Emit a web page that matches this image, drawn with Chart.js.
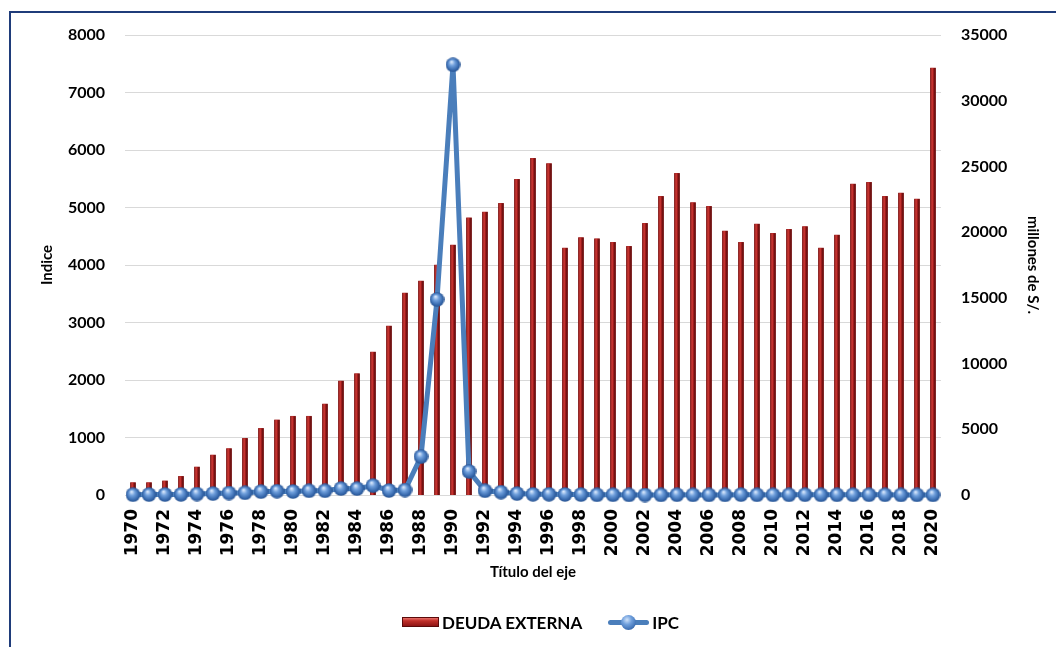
<!DOCTYPE html>
<html lang="es">
<head>
<meta charset="utf-8">
<title>Deuda externa e IPC 1970-2020</title>
<script src="https://cdn.jsdelivr.net/npm/chart.js@4.4.1/dist/chart.umd.min.js"></script>
<style>
  html, body { margin: 0; padding: 0; background: #fff; overflow: hidden; }
  #page { width: 1056px; height: 647px; position: relative; overflow: hidden; font-family: Lato, "Open Sans", sans-serif; }
  #frame {
    position: absolute; left: 9px; top: 11px; width: 1100px; height: 700px;
    border-top: 2px solid #1f3c7a; border-left: 2px solid #1f3c7a;
  }
  #chart { position: absolute; left: 0; top: 0; }
  #legend {
    position: absolute; left: 402px; top: 612px; height: 20px;
    display: flex; align-items: center; font-weight: bold; font-size: 17px; color: #000;
  }
  .leg-bar {
    width: 37px; height: 10px; box-sizing: border-box; border: 1px solid #5a0a0a;
    background: linear-gradient(to bottom, #e8706a 0%, #c0302a 35%, #8e1414 100%);
    margin-right: 3px;
  }
  .leg-line { position: relative; width: 41px; height: 15px; margin: 0 3px 0 26px; }
  .leg-line::before {
    content: ""; position: absolute; left: 0; right: 0; top: 5px; height: 5px;
    border-radius: 3px; background: #4a7ebb;
  }
  .leg-line::after {
    content: ""; position: absolute; left: 13px; top: 0; width: 15px; height: 15px; border-radius: 50%;
    background: radial-gradient(circle at 40% 32%, #cfe2fa 0%, #6f9fdc 35%, #3a6cb0 75%, #24508f 100%);
  }
</style>
</head>
<body>
<div id="page">
  <div id="frame"></div>
  <canvas id="chart" width="1056" height="647"></canvas>
  <div id="legend">
    <span class="leg-bar"></span><span>DEUDA EXTERNA</span>
    <span class="leg-line"></span><span>IPC</span>
  </div>
</div>
<script>
// years on the x axis
const YEARS = [];
for (let y = 1970; y <= 2020; y++) YEARS.push(String(y));

// IPC (left axis, "Indice")
const IPC = [
  5, 7, 7, 10, 17, 24, 34, 38, 58, 67,
  60, 73, 73, 111, 110, 163, 78, 86, 667, 3399,
  7482, 410, 73, 49, 24, 11, 12, 9, 7, 3,
  4, 2, 0, 2, 4, 2, 2, 2, 6, 3,
  2, 3, 4, 3, 3, 4, 4, 3, 1, 2,
  2,
];

// deuda externa (right axis, millones de S/.)
const DEUDA = [
  940, 940, 1070, 1420, 2130, 3040, 3530, 4310, 5070, 5710,
  5990, 5990, 6920, 8670, 9230, 10880, 12860, 15370, 16280, 17500,
  19020, 21080, 21530, 22190, 24020, 25620, 25210, 18790, 19580, 19500,
  19230, 18920, 20670, 22720, 24470, 22240, 21960, 20090, 19230, 20620,
  19910, 20210, 20420, 18790, 19780, 23660, 23790, 22720, 22980, 22520,
  32490,
];

const TICK_FONT = { family: "Lato", weight: "bold", size: 16 };
const X_TICK_FONT = { family: "DejaVu Sans", weight: "bold", size: 17 };
const TITLE_FONT = { family: "Lato", weight: "bold", size: 15 };

// little blue sphere used as point marker
function makeSphere() {
  const c = document.createElement("canvas");
  c.width = 15;
  c.height = 15;
  const g = c.getContext("2d");
  const grad = g.createRadialGradient(6, 4.5, 0.5, 7.5, 7.5, 7.5);
  grad.addColorStop(0, "#d6e6fb");
  grad.addColorStop(0.35, "#6f9fdc");
  grad.addColorStop(0.75, "#3a6cb0");
  grad.addColorStop(1, "#24508f");
  g.fillStyle = grad;
  g.beginPath();
  g.arc(7.5, 7.5, 7.3, 0, Math.PI * 2);
  g.fill();
  return c;
}

// paint the bars with a cylinder-like shading
const barShade = {
  id: "barShade",
  afterDatasetDraw(chart, args) {
    if (args.index !== 1) return;
    const ctx = chart.ctx;
    ctx.save();
    args.meta.data.forEach((bar) => {
      const { x, y, base, width } = bar.getProps(["x", "y", "base", "width"], true);
      const left = x - width / 2;
      const g = ctx.createLinearGradient(left, 0, left + width, 0);
      g.addColorStop(0, "#6a0c0c");
      g.addColorStop(0.3, "#d8403a");
      g.addColorStop(0.55, "#a81e1e");
      g.addColorStop(1, "#4a0808");
      ctx.fillStyle = g;
      ctx.fillRect(left, y, width, base - y);
    });
    ctx.restore();
  },
};

// plain numbers, no thousands separator
function plainTick(value) {
  return String(value);
}

function buildChart() {
  const ctx = document.getElementById("chart").getContext("2d");
  return new Chart(ctx, {
    type: "bar",
    data: {
      labels: YEARS,
      datasets: [
        {
          type: "line",
          label: "IPC",
          data: IPC,
          yAxisID: "yIndice",
          order: 0,
          borderColor: "#4a7ebb",
          borderWidth: 5,
          tension: 0,
          pointStyle: makeSphere(),
          clip: false,
        },
        {
          type: "bar",
          label: "DEUDA EXTERNA",
          data: DEUDA,
          yAxisID: "yMillones",
          order: 1,
          backgroundColor: "#a52222",
          barThickness: 5,
        },
      ],
    },
    plugins: [barShade],
    options: {
      responsive: false,
      animation: false,
      devicePixelRatio: 1,
      layout: { padding: { left: 0, right: 0, top: 35, bottom: 52 } },
      plugins: {
        legend: { display: false },
        tooltip: { enabled: false },
      },
      scales: {
        x: {
          grid: { display: false },
          border: { display: false },
          ticks: {
            autoSkip: false,
            minRotation: 90,
            maxRotation: 90,
            padding: 6,
            color: "#000",
            font: X_TICK_FONT,
            callback(value, index) {
              return index % 2 === 0 ? this.getLabelForValue(value) : "";
            },
          },
          title: {
            display: true,
            text: "Título del eje",
            color: "#000",
            font: TITLE_FONT,
            padding: { top: 0, bottom: 14 },
          },
          afterFit(scale) {
            scale.height = 100;
          },
        },
        yIndice: {
          position: "left",
          min: 0,
          max: 8000,
          grid: { color: "#d9d9d9", drawTicks: false },
          border: { display: false },
          ticks: { stepSize: 1000, padding: 20, color: "#000", font: TICK_FONT, callback: plainTick },
          title: {
            display: true,
            text: "Indice",
            color: "#000",
            font: TITLE_FONT,
            padding: { top: 38, bottom: 0 },
          },
          afterFit(scale) {
            scale.width = 125;
          },
        },
        yMillones: {
          position: "right",
          min: 0,
          max: 35000,
          grid: { display: false, drawTicks: false },
          border: { display: false },
          ticks: { stepSize: 5000, padding: 20, color: "#000", font: TICK_FONT, callback: plainTick },
          title: {
            display: true,
            text: "millones de S/.",
            color: "#000",
            font: TITLE_FONT,
            padding: { top: 14, bottom: 0 },
          },
          afterFit(scale) {
            scale.width = 115;
          },
        },
      },
    },
  });
}

document.addEventListener("DOMContentLoaded", () => {
  buildChart();
});
</script>
</body>
</html>
